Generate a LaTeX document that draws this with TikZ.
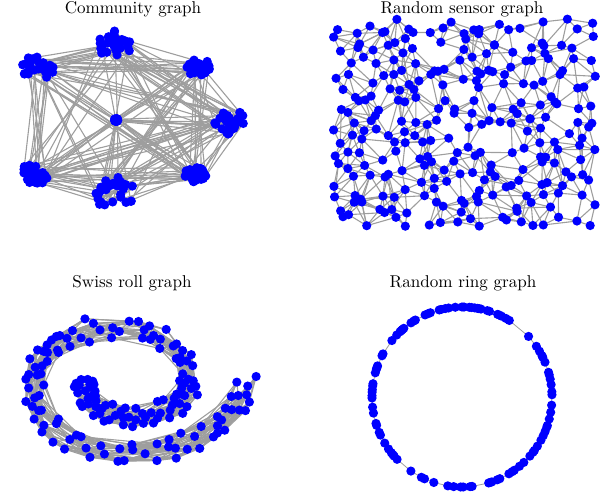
\documentclass[tikz,border=0pt]{standalone}
\usepackage{fontspec}
\newfontfamily\titlefont{lmroman10-regular}[Extension=.otf]

\tikzset{
  edge/.style={draw=black!38, line width=1.1pt},
  dot/.style={fill=blue},
  plottitle/.style={anchor=base, font=\titlefont\fontsize{17.1}{20}\selectfont}
}

% draw an edge only when both grid points are kept
\newcommand\linkpair[3]{%
  \ifcsname #1k-#3\endcsname
    \ifnum\csname #1k-#2\endcsname\csname #1k-#3\endcsname=11
      \draw[edge] (#1-#2) -- (#1-#3);
    \fi
  \fi}

\begin{document}
\begin{tikzpicture}[x=1pt, y=-1pt]
    \useasboundingbox (0,0) rectangle (600,494);
    \pgfmathsetseed{4127}

    % Titles
    \node[plottitle] (t-comm) at (133,13.3) {Community graph};
    \node[plottitle] (t-sens) at (462,13.3) {Random sensor graph};
    \node[plottitle] (t-swiss) at (132,287.3) {Swiss roll graph};
    \node[plottitle] (t-ring) at (463,287.3) {Random ring graph};

    % Community graph: 8 communities
    \foreach \cl/\cx/\cy/\sx/\sy in {1/115/45/17/14, 2/38/68/18/12, 3/198/67/12/10,
        4/228/121/17/13, 5/116/120/2/1.5, 6/36/173/15/12, 7/195/175/12/8, 8/114/193/21/16}{
      \foreach \nd in {1,...,28}{
        \pgfmathsetmacro\ang{360*rnd}
        \pgfmathsetmacro\rad{sqrt(rnd)}
        \coordinate (c-\cl-\nd) at ({\cx+\sx*\rad*cos(\ang)},{\cy+\sy*\rad*sin(\ang)});
      }
    }
    % links between communities
    \foreach \ed in {1,...,190}{
      \pgfmathtruncatemacro\ka{random(8)}
      \pgfmathtruncatemacro\kb{random(8)}
      \pgfmathtruncatemacro\na{random(28)}
      \pgfmathtruncatemacro\nb{random(28)}
      \draw[edge] (c-\ka-\na) -- (c-\kb-\nb);
    }
    % links inside communities
    \foreach \cl in {1,...,8}
      \foreach \ed in {1,...,30}{
        \pgfmathtruncatemacro\na{random(28)}
        \pgfmathtruncatemacro\nb{random(28)}
        \draw[edge] (c-\cl-\na) -- (c-\cl-\nb);
      }
    \foreach \cl in {1,...,8}
      \foreach \nd in {1,...,28}
        \fill[dot] (c-\cl-\nd) circle (4.6pt);

    % Random sensor graph: jittered grid with holes
    \foreach \i in {0,...,19}
      \foreach \j in {0,...,15}{
        \coordinate (s-\i-\j) at ({340+13.1*\i+7*rand},{26+12.9*\j+7*rand});
        \pgfmathtruncatemacro\keep{rnd<0.8}
        \expandafter\xdef\csname sk-\i-\j\endcsname{\keep}
      }
    \foreach \i in {0,...,19}
      \foreach \j in {0,...,15}{
        \pgfmathtruncatemacro\ii{\i+1}
        \pgfmathtruncatemacro\iii{\i+2}
        \pgfmathtruncatemacro\jj{\j+1}
        \pgfmathtruncatemacro\jjj{\j+2}
        \pgfmathtruncatemacro\jm{\j-1}
        \linkpair{s}{\i-\j}{\ii-\j}
        \linkpair{s}{\i-\j}{\i-\jj}
        \linkpair{s}{\i-\j}{\ii-\jj}
        \linkpair{s}{\i-\j}{\ii-\jm}
        \pgfmathtruncatemacro\far{rnd<0.35}
        \ifnum\far=1 \linkpair{s}{\i-\j}{\iii-\j}\linkpair{s}{\i-\j}{\i-\jjj}\fi
      }
    \foreach \i in {0,...,19}
      \foreach \j in {0,...,15}{
        \ifnum\csname sk-\i-\j\endcsname=1 \fill[dot] (s-\i-\j) circle (4.6pt);\fi
      }

    % Swiss roll graph: points along a spiral band
    \foreach \i in {0,...,50}
      \foreach \j in {0,...,3}{
        \pgfmathsetmacro\wphi{180+10.8*(\i+0.4*rand)}
        \pgfmathsetmacro\wt{(\wphi+90)*pi/180}
        \pgfmathsetmacro\wh{9*(-1+2*\j/3+0.35*rand)}
        \coordinate (w-\i-\j) at ({125+(8.4*\wt+\wh)*cos(\wphi)},{381-(5.73*\wt+\wh)*sin(\wphi)});
        \pgfmathtruncatemacro\keep{rnd<0.82}
        \expandafter\xdef\csname wk-\i-\j\endcsname{\keep}
      }
    \foreach \i in {0,...,50}
      \foreach \j in {0,...,3}{
        \pgfmathtruncatemacro\ii{\i+1}
        \pgfmathtruncatemacro\iii{\i+2}
        \pgfmathtruncatemacro\iv{\i+3}
        \pgfmathtruncatemacro\v{\i+4}
        \pgfmathtruncatemacro\jj{\j+1}
        \pgfmathtruncatemacro\jm{\j-1}
        \linkpair{w}{\i-\j}{\ii-\j}
        \linkpair{w}{\i-\j}{\iii-\j}
        \linkpair{w}{\i-\j}{\iv-\j}
        \linkpair{w}{\i-\j}{\v-\j}
        \linkpair{w}{\i-\j}{\i-\jj}
        \linkpair{w}{\i-\j}{\ii-\jj}
        \linkpair{w}{\i-\j}{\ii-\jm}
        \linkpair{w}{\i-\j}{\iii-\jj}
        \linkpair{w}{\i-\j}{\iv-\jm}
      }
    \foreach \i in {0,...,50}
      \foreach \j in {0,...,3}{
        \ifnum\csname wk-\i-\j\endcsname=1 \fill[dot] (w-\i-\j) circle (4.6pt);\fi
      }

    % Random ring graph: random gaps round a circle
    \pgfmathsetseed{2718}
    \xdef\ringtot{0}
    \foreach \i in {1,...,100}{
      \pgfmathsetmacro\rg{0.35-ln(rnd+0.001)}
      \pgfmathsetmacro\rt{\ringtot+\rg}
      \xdef\ringtot{\rt}
      \expandafter\xdef\csname rc\i\endcsname{\rt}
    }
    \foreach \i in {1,...,100}{
      \pgfmathsetmacro\ra{90+360*(\csname rc\i\endcsname/\ringtot)}
      \coordinate (r-\i) at ({462+90*cos(\ra)},{397-90*sin(\ra)});
    }
    \foreach \i [remember=\i as \rp (initially 100)] in {1,...,100}
      \draw[edge, line width=0.8pt] (r-\rp) -- (r-\i);
    \foreach \i in {1,...,100}
      \fill[dot] (r-\i) circle (4.6pt);
\end{tikzpicture}
\end{document}
